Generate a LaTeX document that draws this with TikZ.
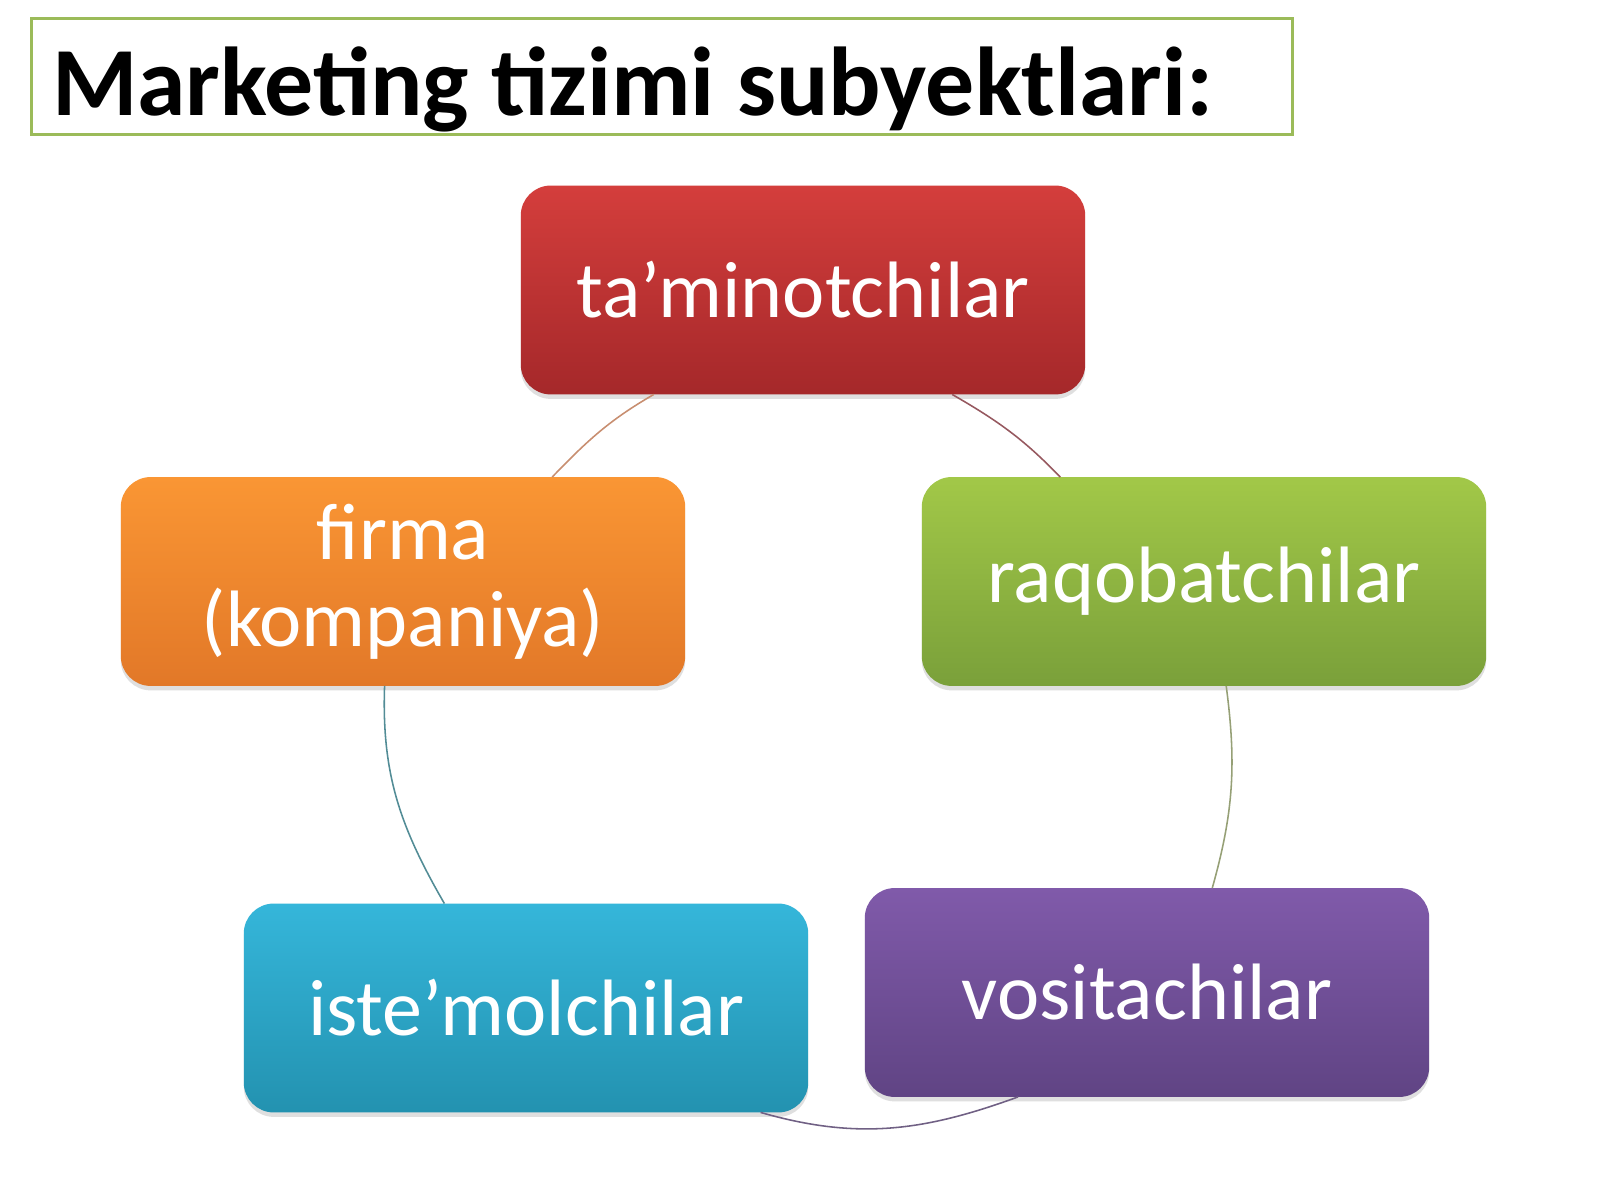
\documentclass[tikz,border=0pt]{standalone}
\usepackage{fontspec}
\setmainfont{Carlito}
\usetikzlibrary{shadows}

\begin{document}
\begin{tikzpicture}[x=0.45pt,y=0.45pt,
  cyclebox/.style={rounded corners=13.5pt,minimum width=254pt,minimum height=94pt,
    inner sep=0pt,outer sep=0pt,text=white,align=center,
    font=\fontsize{36}{39}\selectfont,
    drop shadow={shadow xshift=0pt,shadow yshift=-2pt,opacity=0.25}},
  cyclearc/.style={line width=0.7pt}]
\definecolor{fillColor}{RGB}{255,255,255}
\path[use as bounding box,fill=fillColor] (0,0) rectangle (1600,1200);
\definecolor{frameColor}{RGB}{155,187,89}

\node[draw=frameColor,line width=1.35pt,minimum width=567pt,minimum height=52.2pt,inner sep=0pt] (headbox) at (662,1123) {};

\node[anchor=base west,inner sep=0pt,outer sep=0pt,font=\fontsize{44}{53}\selectfont\bfseries] (heading) at (52,1084) {Marketing tizimi subyektlari:};
\definecolor{redTop}{RGB}{212,62,60}
\definecolor{redBottom}{RGB}{165,40,42}
\definecolor{greenTop}{RGB}{162,200,72}
\definecolor{greenBottom}{RGB}{122,160,58}
\definecolor{purpleTop}{RGB}{128,90,170}
\definecolor{purpleBottom}{RGB}{96,68,132}
\definecolor{blueTop}{RGB}{53,182,218}
\definecolor{blueBottom}{RGB}{35,146,176}
\definecolor{orangeTop}{RGB}{250,150,52}
\definecolor{orangeBottom}{RGB}{226,120,40}

\node[cyclebox,top color=redTop,bottom color=redBottom] (supply) at (803,910) {ta’minotchilar};

\node[cyclebox,top color=greenTop,bottom color=greenBottom] (rival) at (1204,618.5) {raqobatchilar};

\node[cyclebox,top color=purpleTop,bottom color=purpleBottom] (agent) at (1147,207.5) {vositachilar};

\node[cyclebox,top color=blueTop,bottom color=blueBottom] (buyer) at (526,192) {iste’molchilar};

\node[cyclebox,top color=orangeTop,bottom color=orangeBottom] (firm) at (403,618.5) {firma\\(kompaniya)};
\definecolor{arcA}{RGB}{150,88,95}
\definecolor{arcB}{RGB}{150,160,118}
\definecolor{arcC}{RGB}{112,96,132}
\definecolor{arcD}{RGB}{82,140,150}
\definecolor{arcE}{RGB}{200,142,112}

\draw[cyclearc,draw=arcA] (supply.-35) to[out=-30,in=134] (rival.144.2);

\draw[cyclearc,draw=arcB] (rival.-78.1) to[out=-82.5,in=74.3] (agent.58.1);

\draw[cyclearc,draw=arcC] (agent.-141.2) to[out=-160,in=-16] (buyer.-24.8);

\draw[cyclearc,draw=arcD] (buyer.128.5) to[out=120,in=-92] (firm.-100.8);

\draw[cyclearc,draw=arcE] (firm.35.4) to[out=46,in=-150] (supply.-145.8);
\end{tikzpicture}
\end{document}
